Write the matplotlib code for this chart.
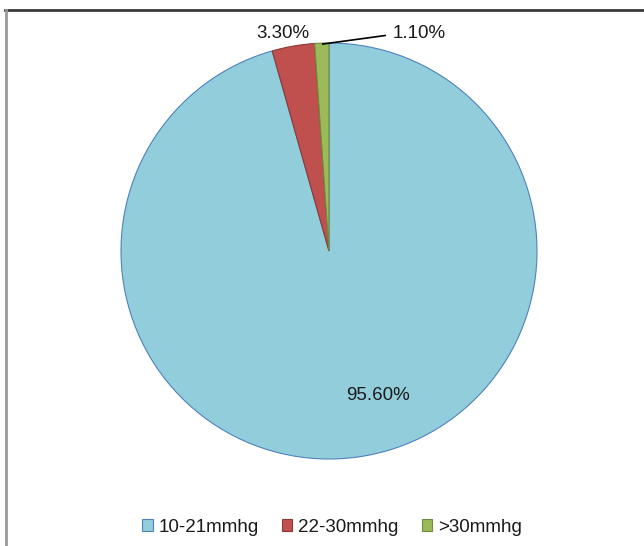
import matplotlib
matplotlib.use("Agg")
import matplotlib.pyplot as plt
from matplotlib.patches import Patch
from matplotlib.lines import Line2D

categories = ["10-21mmhg", "22-30mmhg", ">30mmhg"]
values = [95.6, 3.3, 1.1]
labels = ["95.60%", "3.30%", "1.10%"]
colors = ["#92CDDC", "#C0504D", "#9BBB59"]
edges = ["#4F81BD", "#8B3A38", "#6E8A3C"]

plt.rcParams['font.family'] = ['Liberation Sans', 'DejaVu Sans']

fig = plt.figure(figsize=(6.44, 5.46), dpi=100)
ax = fig.add_axes([121/644, 87/546, 416/644, 416/546])
wedges, _ = ax.pie(values, colors=colors, startangle=90, counterclock=False,
                   radius=1.0, wedgeprops=dict(linewidth=0.8))
for w, ec in zip(wedges, edges):
    w.set_edgecolor(ec)
ax.set_xlim(-1, 1)
ax.set_ylim(-1, 1)
ax.set_aspect('auto')
ax.axis('off')

fs = 13.5
tc = '#1a1a1a'
# labels
ax.text(0.236, -0.697, labels[0], ha='center', va='center', fontsize=fs, color=tc)
ax.text(-0.221, 1.048, labels[1], ha='center', va='center', fontsize=fs, color=tc)
ax.text(0.435, 1.048, labels[2], ha='center', va='center', fontsize=fs, color=tc)
ax.add_line(Line2D([-0.03, 0.27], [0.995, 1.036], color='black', linewidth=1.2, clip_on=False))

# frame lines
fig.add_artist(Line2D([5/644, 1], [1 - 10/546, 1 - 10/546], color='#3a3a3a', linewidth=2, transform=fig.transFigure))
fig.add_artist(Line2D([6/644, 6/644], [0, 1 - 10/546], color='#999999', linewidth=2, transform=fig.transFigure))

handles = [Patch(facecolor=c, edgecolor=e, linewidth=0.8) for c, e in zip(colors, edges)]
fig.legend(handles, categories, loc='center', bbox_to_anchor=(332/644, 1 - 527/546), ncol=3,
           frameon=False, fontsize=fs, handlelength=0.55, handleheight=0.55,
           handletextpad=0.3, columnspacing=1.25, labelcolor=tc)

fig.savefig("out.png", dpi=100)
